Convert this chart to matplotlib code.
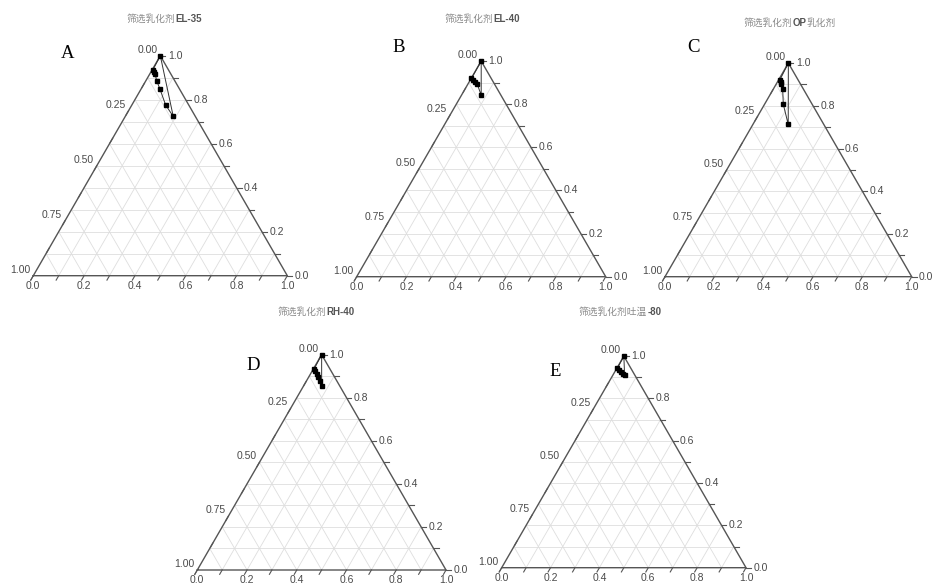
import numpy as np
import matplotlib
matplotlib.use("Agg")
import matplotlib.pyplot as plt
from matplotlib.offsetbox import TextArea, HPacker, AnnotationBbox

W, H = 933, 584
SQ = np.sqrt(3) / 2

# phase-boundary points: top = right-axis fraction, bottom = bottom-axis fraction
el35_top = [1.00, 0.935, 0.927, 0.916, 0.887, 0.849, 0.776, 0.724]
el35_bottom = [0.00, 0.003, 0.011, 0.022, 0.042, 0.074, 0.133, 0.189]

el40_top = [1.00, 0.920, 0.911, 0.903, 0.895, 0.842]
el40_bottom = [0.00, 0.001, 0.013, 0.025, 0.036, 0.079]

op_top = [1.00, 0.922, 0.911, 0.900, 0.880, 0.807, 0.713]
op_bottom = [0.00, 0.005, 0.013, 0.022, 0.037, 0.076, 0.143]

rh40_top = [1.00, 0.935, 0.922, 0.910, 0.896, 0.879, 0.856]
rh40_bottom = [0.00, 0.003, 0.013, 0.025, 0.037, 0.054, 0.072]

tw80_top = [1.00, 0.942, 0.933, 0.925, 0.917, 0.912]
tw80_bottom = [0.00, 0.002, 0.015, 0.027, 0.040, 0.047]

letters = ["A", "B", "C", "D", "E"]
titles = [
    [("筛选乳化剂", False), ("EL-35", True)],
    [("筛选乳化剂", False), ("EL-40", True)],
    [("筛选乳化剂", False), ("OP", True), ("乳化剂", False)],
    [("筛选乳化剂", False), ("RH-40", True)],
    [("筛选乳化剂吐温", False), ("-80", True)],
]
bottom_ticks = [0.0, 0.2, 0.4, 0.6, 0.8, 1.0]
right_ticks = [0.0, 0.2, 0.4, 0.6, 0.8, 1.0]
left_ticks = [0.00, 0.25, 0.50, 0.75, 1.00]

# panel layout in pixels: left vertex x, base y, side length
panels = [
    (33.3, 275.7, 254.0),
    (356.7, 276.7, 249.0),
    (665.0, 276.7, 246.7),
    (197.3, 570.0, 248.7),
    (501.7, 567.7, 244.3),
]
title_pos = [(164, 19), (482, 19), (790, 23), (316, 312), (620, 312)]
letter_pos = [(68, 53), (399, 47), (693, 47), (253, 365), (555, 371)]

EDGE = "#555555"
GRID = "#dedede"
LABEL = "#4a4a4a"


def to_xy(top, bottom):
    top = np.asarray(top, dtype=float)
    bottom = np.asarray(bottom, dtype=float)
    return bottom + 0.5 * top, SQ * top


def ternary_frame(ax):
    ax.set_xlim(0, 1)
    ax.set_ylim(0, SQ)
    ax.axis("off")
    for v in np.arange(1, 10) / 10:
        ax.plot([0.5 * v, 1 - 0.5 * v], [SQ * v, SQ * v], color=GRID, lw=0.6, zorder=1)
        ax.plot([v, v + 0.5 * (1 - v)], [0, SQ * (1 - v)], color=GRID, lw=0.6, zorder=1)
        ax.plot([1 - v, 0.5 * (1 - v)], [0, SQ * (1 - v)], color=GRID, lw=0.6, zorder=1)
    ax.plot([0, 1, 0.5, 0], [0, 0, SQ, 0], color=EDGE, lw=1.0, zorder=2, clip_on=False)

    tl = 0.02
    kw = dict(color=LABEL, fontsize=7.5, family="Liberation Sans")
    # bottom axis
    for v in np.arange(0, 11) / 10:
        ax.plot([v, v - 0.5 * tl], [0, -SQ * tl], color=EDGE, lw=0.8, clip_on=False)
    for v in bottom_ticks:
        ax.text(v, -0.042, f"{v:.1f}", ha="center", va="center", **kw)
    # right axis
    for v in np.arange(0, 11) / 10:
        x, y = 1 - 0.5 * v, SQ * v
        ax.plot([x, x + tl], [y, y], color=EDGE, lw=0.8, clip_on=False)
    for v in right_ticks:
        ax.text(1 - 0.5 * v + 0.03, SQ * v, f"{v:.1f}", ha="left", va="center", **kw)
    # left axis
    for v in np.arange(0, 9) / 8:
        x, y = 0.5 * (1 - v), SQ * (1 - v)
        ax.plot([x, x - 0.5 * tl], [y, y - SQ * tl], color=EDGE, lw=0.8, clip_on=False)
    for v in left_ticks:
        x, y = 0.5 * (1 - v), SQ * (1 - v)
        ax.text(x - 0.012, y + 0.024, f"{v:.2f}", ha="right", va="center", **kw)


def add_title(fig, segments, xy):
    parts = []
    for txt, bold in segments:
        props = dict(
            fontsize=7,
            family=["Liberation Sans", "Noto Sans CJK SC"] if bold else ["Noto Sans CJK SC"],
            color="#555555" if bold else "#8a8a8a",
            fontweight="bold" if bold else "normal",
        )
        parts.append(TextArea(txt, textprops=props))
    box = HPacker(children=parts, align="baseline", pad=0, sep=0)
    ab = AnnotationBbox(
        box,
        (xy[0] / W, 1 - xy[1] / H),
        xycoords="figure fraction",
        frameon=False,
        box_alignment=(0.5, 0.5),
    )
    fig.add_artist(ab)


fig = plt.figure(figsize=(W / 100, H / 100), dpi=100)
fig.patch.set_facecolor("white")

series = [
    (el35_top, el35_bottom),
    (el40_top, el40_bottom),
    (op_top, op_bottom),
    (rh40_top, rh40_bottom),
    (tw80_top, tw80_bottom),
]

for i, (x0, base, side) in enumerate(panels):
    ax = fig.add_axes([x0 / W, 1 - base / H, side / W, side * SQ / H])
    ternary_frame(ax)
    top, bottom = series[i]
    x, y = to_xy(top, bottom)
    ax.plot(np.append(x, x[0]), np.append(y, y[0]), color="#333333", lw=0.7,
            zorder=3, clip_on=False)
    ax.plot(x, y, "s", color="black", ms=3.3, zorder=4, clip_on=False)

    add_title(fig, titles[i], title_pos[i])
    lx, ly = letter_pos[i]
    fig.text(lx / W, 1 - ly / H, letters[i], fontsize=13.5, family="Liberation Serif",
             ha="center", va="center", color="black")

fig.savefig("out.png", dpi=100)
